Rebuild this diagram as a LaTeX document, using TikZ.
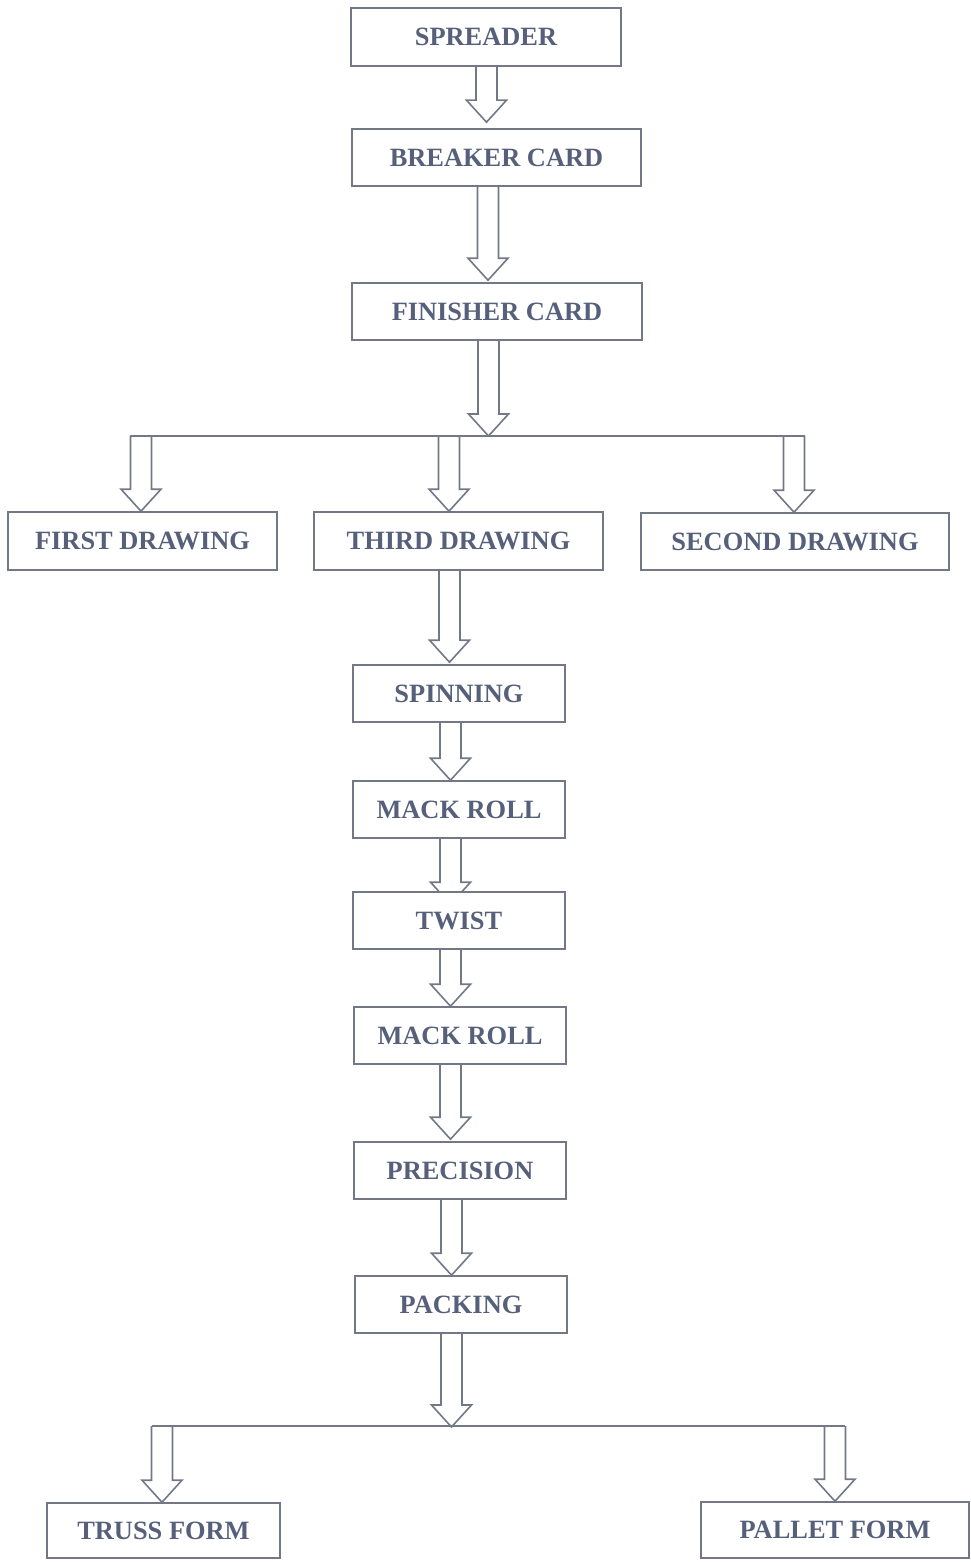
\documentclass[tikz,border=0pt]{standalone}
\usepackage{fontspec}
\setmainfont{Liberation Serif}
\usetikzlibrary{calc,backgrounds}
\definecolor{txt}{HTML}{56607A}
\definecolor{edge}{HTML}{737887}
\tikzset{
  box/.style={draw=edge, line width=0.8pt, fill=white, text=txt,
    font=\fontsize{13.2}{15}\selectfont\bfseries, inner sep=0pt},
  arr/.style={draw=edge, line width=0.8pt, line join=miter},
  bline/.style={draw=edge, line width=0.8pt},
}
\newcommand{\hollow}[3][0pt]{%
  \draw[arr] let \p1=($(#2)+(#1,0)$), \p2=(#3) in
    (\x1-5.25pt,\y1) -- (\x1-5.25pt,\y2+11pt) -- (\x1-10pt,\y2+11pt) --
    (\x1,\y2) -- (\x1+10pt,\y2+11pt) -- (\x1+5.25pt,\y2+11pt) -- (\x1+5.25pt,\y1);}
\begin{document}
\begin{tikzpicture}[x=0.5pt,y=-0.5pt]
\useasboundingbox (0,0) rectangle (970,1562);
\node[box, minimum width=135pt, minimum height=29pt] (spreader) at (486,37) {SPREADER};
\node[box, minimum width=144.5pt, minimum height=28.5pt] (breaker) at (496.5,157.5) {BREAKER CARD};
\node[box, minimum width=145pt, minimum height=28.5pt] (finisher) at (497,311.5) {FINISHER CARD};
\node[box, minimum width=134.5pt, minimum height=29pt] (first) at (142.5,541) {FIRST DRAWING};
\node[box, minimum width=144.5pt, minimum height=29pt] (third) at (458.5,541) {THIRD DRAWING};
\node[box, minimum width=154pt, minimum height=28.5pt] (second) at (795,541.5) {SECOND DRAWING};
\node[box, minimum width=106pt, minimum height=28.5pt] (spinning) at (459,693.5) {SPINNING};
\node[box, minimum width=106pt, minimum height=28.5pt] (mack1) at (459,809.5) {MACK ROLL};
\node[box, minimum width=106pt, minimum height=28.5pt] (twist) at (459,920.5) {TWIST};
\node[box, minimum width=106pt, minimum height=28.5pt] (mack2) at (460,1035.5) {MACK ROLL};
\node[box, minimum width=106pt, minimum height=28.5pt] (precision) at (460,1170.5) {PRECISION};
\node[box, minimum width=106pt, minimum height=28.5pt] (packing) at (461,1304.5) {PACKING};
\node[box, minimum width=116.5pt, minimum height=27.5pt] (truss) at (163.5,1530.5) {TRUSS FORM};
\node[box, minimum width=134pt, minimum height=28pt] (pallet) at (835,1530) {PALLET FORM};
% branch coordinates
\coordinate (l1a) at (130,436);
\coordinate (l1b) at (805,436);
\coordinate (j1) at (488.5,436);
\coordinate (d1) at (141,436);
\coordinate (d3) at (449,436);
\coordinate (d2) at (794,436);
\coordinate (l2a) at (152,1426);
\coordinate (l2b) at (845,1426);
\coordinate (j2) at (451.5,1427);
\coordinate (e1) at (162,1426);
\coordinate (e2) at (835,1426);
\begin{scope}[on background layer]
\hollow[0.25pt]{spreader.south}{$(breaker.north)+(0,3pt)$}
\hollow[-4.25pt]{breaker.south}{$(finisher.north)+(0,1pt)$}
\hollow[-4.25pt]{finisher.south}{j1}
\draw[bline] (l1a) -- (l1b);
\hollow{d1}{d1 |- first.north}
\hollow{d3}{d3 |- third.north}
\hollow{d2}{d2 |- second.north}
\hollow[-4.5pt]{third.south}{$(spinning.north)+(0,1pt)$}
\hollow[-4.25pt]{spinning.south}{mack1.north}
\hollow[-4.25pt]{mack1.south}{$(twist.north)+(0,-6.5pt)$}
\hollow[-4.25pt]{twist.south}{mack2.north}
\hollow[-4.75pt]{mack2.south}{$(precision.north)+(0,1pt)$}
\hollow[-4.25pt]{precision.south}{packing.north}
\hollow[-4.75pt]{packing.south}{j2}
\draw[bline] (l2a) -- (l2b);
\hollow{e1}{e1 |- truss.north}
\hollow{e2}{e2 |- pallet.north}
\end{scope}
\end{tikzpicture}
\end{document}
